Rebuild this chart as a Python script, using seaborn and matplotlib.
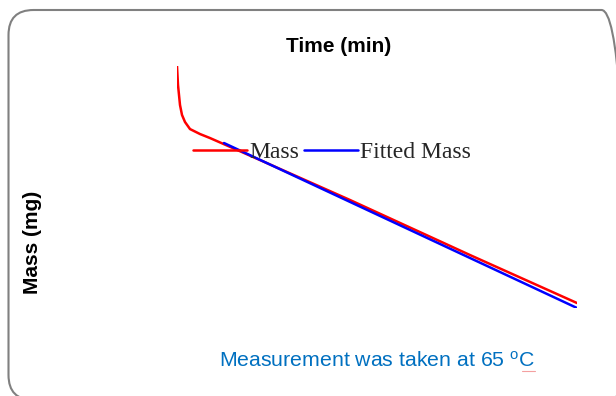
import matplotlib
matplotlib.use("Agg")
import matplotlib.pyplot as plt
from matplotlib.patches import FancyBboxPatch
from matplotlib.lines import Line2D
import seaborn as sns
import pandas as pd

# ---- data (time in min, mass in mg) ----
mass_time = [0, 0.5, 1.5, 2.5, 4, 6.5, 11.5, 16.5, 41.5, 86.5, 146.5, 200]
mass_vals = [8.000, 7.844, 7.679, 7.597, 7.539, 7.481, 7.440, 7.407, 7.226, 6.897, 6.444, 6.049]
fit_time = [23.5, 200]
fit_vals = [7.366, 6.008]
series_names = ["Mass", "Fitted Mass"]
series_colors = ["#FF0000", "#0000FF"]

title_text = "Time (min)"
ylabel_text = "Mass (mg)"
note_text = "Measurement was taken at 65 $^\\mathregular{o}$C"

df = pd.concat([
    pd.DataFrame({"Time": mass_time, "Mass": mass_vals, "Series": series_names[0]}),
    pd.DataFrame({"Time": fit_time, "Mass": fit_vals, "Series": series_names[1]}),
])

sns.set_theme(style="white")
plt.rcParams["font.family"] = ["Liberation Sans", "DejaVu Sans"]
plt.rcParams["mathtext.default"] = "regular"

W, H = 616, 396
fig = plt.figure(figsize=(W / 100, H / 100), dpi=100)
fig.patch.set_facecolor("white")

# overlay axes in pixel units (y up) for the rounded frame
bg = fig.add_axes([0, 0, 1, 1], zorder=0)
bg.set_xlim(0, W)
bg.set_ylim(0, H)
bg.set_axis_off()
bg.add_patch(FancyBboxPatch((8.5, H - 400), 618, 390, boxstyle="round,pad=0,rounding_size=25",
                            facecolor="none", edgecolor="#808080", linewidth=1.5, clip_on=False))
bg.add_line(Line2D([522, 535], [H - 371, H - 371], color="#F4A0A0", lw=0.8))

left, right, top, bottom = 177, 577, 66, 308
ax = fig.add_axes([left / W, 1 - bottom / H, (right - left) / W, (bottom - top) / H], zorder=1)
ax.patch.set_alpha(0)
sns.lineplot(data=df, x="Time", y="Mass", hue="Series", palette=dict(zip(series_names, series_colors)),
             ax=ax, linewidth=1.8, sort=False, estimator=None, legend=False)
ax.set_xlim(0, 200)
ax.set_ylim(6.008, 8.0)
ax.set_axis_off()

handles = [Line2D([], [], color=c, lw=1.8) for c in series_colors]
fig.legend(handles, series_names, loc="center left", bbox_to_anchor=(193 / W, 1 - 152 / H),
           bbox_transform=fig.transFigure, ncol=2, frameon=False, borderpad=0, borderaxespad=0,
           handlelength=2.3, handletextpad=0.08, columnspacing=0.2,
           prop={"family": "Liberation Serif", "size": 17})

fig.text(339 / W, 1 - 47 / H, title_text, ha="center", va="center", fontsize=15, fontweight="bold",
         color="black")
fig.text(33 / W, 1 - 242 / H, ylabel_text, ha="center", va="center", rotation=90, fontsize=15,
         fontweight="bold", color="black")
fig.text(377 / W, 1 - 361 / H, note_text, ha="center", va="center", fontsize=15.3, color="#0070C0")

fig.savefig("out.png", dpi=100)
